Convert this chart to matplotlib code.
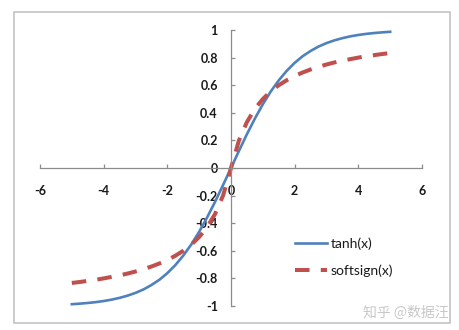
import matplotlib.pyplot as plt
from matplotlib.patches import Rectangle

# values (x step 0.25)
x_vals = [-5.0, -4.75, -4.5, -4.25, -4.0, -3.75, -3.5, -3.25, -3.0, -2.75,
          -2.5, -2.25, -2.0, -1.75, -1.5, -1.25, -1.0, -0.75, -0.5, -0.25,
          0.0, 0.25, 0.5, 0.75, 1.0, 1.25, 1.5, 1.75, 2.0, 2.25,
          2.5, 2.75, 3.0, 3.25, 3.5, 3.75, 4.0, 4.25, 4.5, 4.75, 5.0]
tanh_vals = [-0.987, -0.983, -0.978, -0.972, -0.964, -0.954, -0.941, -0.925, -0.905, -0.88,
             -0.848, -0.81, -0.762, -0.704, -0.635, -0.555, -0.462, -0.358, -0.245, -0.124,
             0.0, 0.124, 0.245, 0.358, 0.462, 0.555, 0.635, 0.704, 0.762, 0.81,
             0.848, 0.88, 0.905, 0.925, 0.941, 0.954, 0.964, 0.972, 0.978, 0.983, 0.987]
softsign_vals = [-0.833, -0.826, -0.818, -0.81, -0.8, -0.789, -0.778, -0.765, -0.75, -0.733,
                 -0.714, -0.692, -0.667, -0.636, -0.6, -0.556, -0.5, -0.429, -0.333, -0.2,
                 0.0, 0.2, 0.333, 0.429, 0.5, 0.556, 0.6, 0.636, 0.667, 0.692,
                 0.714, 0.733, 0.75, 0.765, 0.778, 0.789, 0.8, 0.81, 0.818, 0.826, 0.833]
x_ticks = [-6, -4, -2, 0, 2, 4, 6]
y_ticks = [-1, -0.8, -0.6, -0.4, -0.2, 0, 0.2, 0.4, 0.6, 0.8, 1]
y_labels = ['-1', '-0.8', '-0.6', '-0.4', '-0.2', '0', '0.2', '0.4', '0.6', '0.8', '1']

plt.rcParams['font.family'] = ['Lato', 'DejaVu Sans']

fig = plt.figure(figsize=(4.6, 3.3), dpi=100)
# chart border
fig.patches.append(Rectangle((14 / 460, 1 - 323 / 330), 436 / 460, 311 / 330,
                             transform=fig.transFigure, fill=False,
                             edgecolor='#c4c4c4', linewidth=1.2))

ax = fig.add_axes([40 / 460, 24 / 330, 382 / 460, 276 / 330])
ax.plot(x_vals, tanh_vals, color='#4f81bd', linewidth=1.9, label='tanh(x)')
ax.plot(x_vals, softsign_vals, color='#c0504d', linewidth=2.9,
        dashes=(3.6, 2.8), label='softsign(x)')

ax.set_xlim(-6, 6)
ax.set_ylim(-1, 1)
for side in ['top', 'right']:
    ax.spines[side].set_visible(False)
ax.spines['left'].set_position(('data', 0))
ax.spines['bottom'].set_position(('data', 0))
for side in ['left', 'bottom']:
    ax.spines[side].set_color('#8c8c8c')
    ax.spines[side].set_linewidth(0.9)

ax.set_xticks(x_ticks)
ax.set_xticklabels([str(t) for t in x_ticks])
ax.set_yticks(y_ticks)
ax.set_yticklabels(y_labels)
ax.tick_params(axis='x', direction='in', length=3, width=0.9, color='#8c8c8c',
               pad=12, labelsize=9, labelcolor='#1a1a1a')
ax.tick_params(axis='y', direction='in', length=3, width=0.9, color='#8c8c8c',
               pad=9.5, labelsize=9, labelcolor='#1a1a1a')
for lab in ax.get_xticklabels() + ax.get_yticklabels():
    lab.set_fontweight('bold')

leg = ax.legend(loc='center left', bbox_to_anchor=(0.649, 0.1775), frameon=False,
                borderpad=0, fontsize=10, handlelength=2.3, handletextpad=0.3,
                labelspacing=1.0)
for t in leg.get_texts():
    t.set_color('#1a1a1a')

fig.text(0.975, 0.03, '知乎 @数据汪', ha='right', va='bottom', fontsize=10,
         color='#c8c8c8', family=['Noto Sans CJK SC', 'DejaVu Sans'])

plt.savefig('out.png', dpi=100)
